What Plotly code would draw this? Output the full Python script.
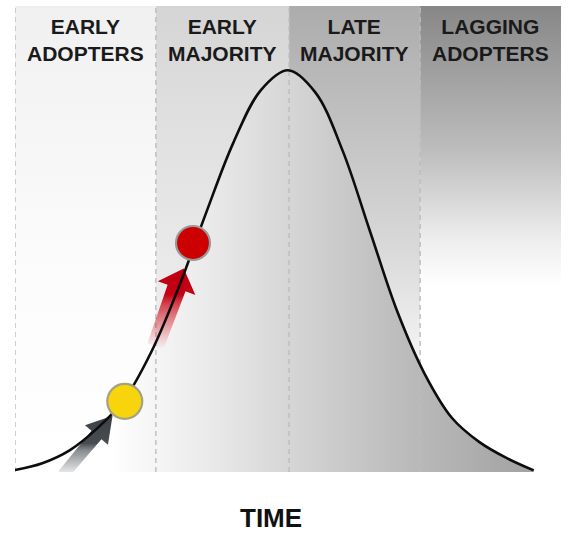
import math
import plotly.graph_objects as go

# Adoption stages and where each one begins / ends on the time axis
stage_names = ["EARLY<br>ADOPTERS", "EARLY<br>MAJORITY", "LATE<br>MAJORITY", "LAGGING<br>ADOPTERS"]
stage_bounds = [0, 25.8, 50.2, 74.2, 100]

# Adoption curve (share of peak adoption over time)
time = [0, 5, 10, 15, 20, 25, 30, 35, 40, 45, 50, 55, 60, 65, 70, 75, 80, 85, 90, 95]
adoption = [0.5, 2.2, 5.4, 10.8, 18.0, 30.0, 46.0, 64.5, 82.0, 95.0, 100.0,
            94.5, 80.0, 60.0, 40.0, 24.5, 13.5, 7.5, 3.5, 0.4]

# Milestones marked on the curve
milestone_time = [20.1, 32.6]
milestone_value = [17.6, 57.0]

axis_title = "TIME"

# ---- layout geometry ----
FIG_W, FIG_H = 568, 533
MARGIN = dict(l=15, r=7, t=6, b=61)
X_RANGE = [0, 100]
Y_RANGE = [0, 116]
PLOT_W = FIG_W - MARGIN["l"] - MARGIN["r"]
PLOT_H = FIG_H - MARGIN["t"] - MARGIN["b"]
SX = PLOT_W / (X_RANGE[1] - X_RANGE[0])   # px per x unit
SY = PLOT_H / (Y_RANGE[1] - Y_RANGE[0])   # px per y unit

FONT = "Liberation Sans, Arial, sans-serif"

# vertical background shading for each stage (0 = bottom, 1 = top)
band_scales = [
    [[0, "#ffffff"], [0.48, "#fbfbfb"], [1, "#f0f0f0"]],
    [[0, "#f6f6f6"], [0.37, "#ececec"], [0.69, "#e2e2e2"], [1, "#d5d5d5"]],
    [[0, "#ffffff"], [0.26, "#f2f2f2"], [0.48, "#d9d9d9"], [0.69, "#c6c6c6"], [1, "#acacac"]],
    [[0, "#ffffff"], [0.40, "#ffffff"], [0.50, "#ededed"], [0.69, "#bdbdbd"], [1, "#878787"]],
]

# horizontal shading under the curve
area_scale = [[0, "#ffffff"], [0.18, "#ffffff"], [0.21, "#fafafa"], [0.34, "#ececec"],
              [0.50, "#d6d6d6"], [0.70, "#bdbdbd"], [0.93, "#a4a4a4"], [1, "#a0a0a0"]]

fig = go.Figure()

# stage backgrounds
for i in range(len(stage_names)):
    x0, x1 = stage_bounds[i], stage_bounds[i + 1]
    fig.add_trace(go.Scatter(
        x=[x0, x1, x1, x0, x0], y=[Y_RANGE[0], Y_RANGE[0], Y_RANGE[1], Y_RANGE[1], Y_RANGE[0]],
        mode="lines", line=dict(width=0), fill="toself",
        fillgradient=dict(type="vertical", colorscale=band_scales[i],
                          start=Y_RANGE[0], stop=Y_RANGE[1]),
        hoverinfo="skip", showlegend=False))

# shaded area under the curve
fig.add_trace(go.Scatter(
    x=time, y=adoption, mode="lines", line=dict(width=0, shape="spline", smoothing=1),
    fill="tozeroy",
    fillgradient=dict(type="horizontal", colorscale=area_scale, start=X_RANGE[0], stop=X_RANGE[1]),
    hoverinfo="skip", showlegend=False))

# dashed stage dividers
for b in stage_bounds[:-1]:
    fig.add_trace(go.Scatter(
        x=[b, b], y=[Y_RANGE[0], Y_RANGE[1]], mode="lines",
        line=dict(color="#bcbcbc", width=1.4, dash="5px,4px"),
        hoverinfo="skip", showlegend=False))


def arrow_shape(cx, cy, angle_deg, gap, head_len, head_half, shaft_half, shaft_len):
    """Arrow pointing at (cx, cy) from below-left; sizes in px, result in data units."""
    ux, uy = math.cos(math.radians(angle_deg)), math.sin(math.radians(angle_deg))
    px, py = -uy, ux
    tip = (-gap * ux, -gap * uy)
    base = (tip[0] - head_len * ux, tip[1] - head_len * uy)
    tail = (base[0] - shaft_len * ux, base[1] - shaft_len * uy)
    pts = [
        (tail[0] + shaft_half * px * 0.9, tail[1] + shaft_half * py * 0.9),
        (base[0] + shaft_half * px, base[1] + shaft_half * py),
        (base[0] + head_half * px, base[1] + head_half * py),
        tip,
        (base[0] - head_half * px, base[1] - head_half * py),
        (base[0] - shaft_half * px, base[1] - shaft_half * py),
        (tail[0] - shaft_half * px * 0.9, tail[1] - shaft_half * py * 0.9),
    ]
    pts.append(pts[0])
    xs = [cx + p[0] / SX for p in pts]
    ys = [cy + p[1] / SY for p in pts]
    return xs, ys


arrow_specs = [
    dict(angle=50, gap=19, head_len=25, head_half=15, shaft_half=6.5, shaft_len=52,
         scale=[[0, "rgba(90,95,100,0)"], [0.45, "rgba(85,90,96,0.7)"],
                [0.56, "rgba(72,77,83,1)"], [1, "rgba(60,65,70,1)"]]),
    dict(angle=70, gap=27, head_len=21, head_half=20, shaft_half=9.5, shaft_len=62,
         scale=[[0, "rgba(215,40,50,0)"], [0.55, "rgba(205,15,30,0.75)"],
                [0.68, "rgba(196,0,20,1)"], [1, "rgba(190,0,18,1)"]]),
]

for (mx, my, spec) in zip(milestone_time, milestone_value, arrow_specs):
    ax, ay = arrow_shape(mx, my, spec["angle"], spec["gap"], spec["head_len"],
                         spec["head_half"], spec["shaft_half"], spec["shaft_len"])
    fig.add_trace(go.Scatter(
        x=ax, y=ay, mode="lines", line=dict(width=0), fill="toself",
        fillgradient=dict(type="vertical", colorscale=spec["scale"]),
        hoverinfo="skip", showlegend=False))

# adoption curve
fig.add_trace(go.Scatter(
    x=time, y=adoption, mode="lines",
    line=dict(color="#0d0d0d", width=2.6, shape="spline", smoothing=1),
    hoverinfo="skip", showlegend=False))

# milestone markers
fig.add_trace(go.Scatter(
    x=milestone_time, y=milestone_value, mode="markers",
    marker=dict(size=[35, 34], color=["#f7d40c", "#cc0000"], opacity=1,
                line=dict(color=["#a3a283", "#9a9a9a"], width=2.2)),
    hoverinfo="skip", showlegend=False))

# stage labels
for i, name in enumerate(stage_names):
    fig.add_annotation(
        x=(stage_bounds[i] + stage_bounds[i + 1]) / 2, xref="x",
        y=0.926, yref="paper", yanchor="middle", xanchor="center",
        text=name, showarrow=False, align="center",
        font=dict(family=FONT, size=21, color="#1a1a1a", weight="bold"))

fig.add_annotation(
    x=0.469, xref="paper", y=-0.098, yref="paper", xanchor="center", yanchor="middle",
    text=axis_title, showarrow=False,
    font=dict(family=FONT, size=26, color="#111111", weight="bold"))

fig.update_layout(
    width=FIG_W, height=FIG_H, margin=MARGIN,
    paper_bgcolor="white", plot_bgcolor="white",
    xaxis=dict(range=X_RANGE, visible=False, fixedrange=True),
    yaxis=dict(range=Y_RANGE, visible=False, fixedrange=True),
    showlegend=False,
)

fig.write_html("out.html")
